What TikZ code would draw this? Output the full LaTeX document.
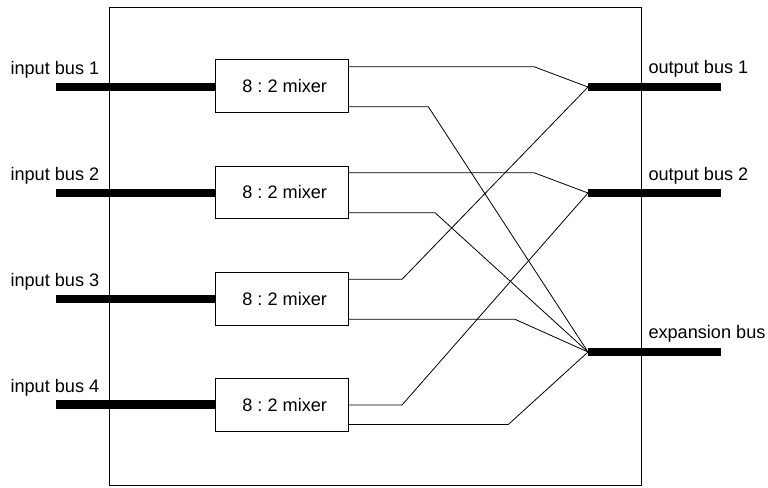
\documentclass[tikz,border=0pt]{standalone}
\usepackage{fontspec}
\setmainfont{Liberation Sans}
\frenchspacing
\begin{document}
\begin{tikzpicture}[x=0.75pt,y=-0.75pt,line width=0.75pt,
  mixer/.style={draw,rectangle,minimum width=100pt,minimum height=39.5pt,inner sep=0pt,font=\fontsize{13.6}{16}\selectfont},
  lbl/.style={anchor=base west,inner sep=0pt,font=\fontsize{13.6}{16}\selectfont},
  bus/.style={line width=6.4pt},
  wire/.style={line width=0.6pt}]
\useasboundingbox (0,0) rectangle (768,487);
% frame
\draw (109,7) rectangle (641,485);
% mixers
\node[mixer] (m1) at (281.7,86.2) {\hspace*{4.5pt}8 : 2 mixer};
\node[mixer] (m2) at (281.7,192.5) {\hspace*{4.5pt}8 : 2 mixer};
\node[mixer] (m3) at (281.7,298.7) {\hspace*{4.5pt}8 : 2 mixer};
\node[mixer] (m4) at (281.7,405) {\hspace*{4.5pt}8 : 2 mixer};
% input buses
\coordinate (i1) at (56,86.8);
\coordinate (i2) at (56,192.8);
\coordinate (i3) at (56,299);
\coordinate (i4) at (56,404.5);
\draw[bus] (i1) -- (i1 -| m1.west);
\draw[bus] (i2) -- (i2 -| m2.west);
\draw[bus] (i3) -- (i3 -| m3.west);
\draw[bus] (i4) -- (i4 -| m4.west);
% output buses
\coordinate (o1) at (588,87);
\coordinate (o1e) at (721,87);
\coordinate (o2) at (588,193);
\coordinate (o2e) at (721,193);
\coordinate (ex) at (588,352);
\coordinate (exe) at (721,352);
\draw[bus] (o1) -- (o1e);
\draw[bus] (o2) -- (o2e);
\draw[bus] (ex) -- (exe);
% labels
\node[lbl] (li1) at (10,74.3) {input bus 1};
\node[lbl] (li2) at (10,180.5) {input bus 2};
\node[lbl] (li3) at (10,286.7) {input bus 3};
\node[lbl] (li4) at (10,392.2) {input bus 4};
\node[lbl] (lo1) at (648,73.7) {output bus 1};
\node[lbl] (lo2) at (648,180) {output bus 2};
\node[lbl] (lex) at (648,338.5) {expansion bus};
% kinks
\coordinate (k1a) at (534,66.7);
\coordinate (k1b) at (428.3,106.7);
\coordinate (k2a) at (534,172.7);
\coordinate (k2b) at (435,212.7);
\coordinate (k3a) at (402,279.3);
\coordinate (k3b) at (515,319.3);
\coordinate (k4a) at (402,405);
\coordinate (k4b) at (508.3,424.5);
% wires
\draw[wire] (m1.east |- k1a) -- (k1a) -- (o1);
\draw[wire] (m1.east |- k1b) -- (k1b) -- (ex);
\draw[wire] (m2.east |- k2a) -- (k2a) -- (o2);
\draw[wire] (m2.east |- k2b) -- (k2b) -- (ex);
\draw[wire] (m3.east |- k3a) -- (k3a) -- (o1);
\draw[wire] (m3.east |- k3b) -- (k3b) -- (ex);
\draw[wire] (m4.east |- k4a) -- (k4a) -- (o2);
\draw[wire] (m4.east |- k4b) -- (k4b) -- (ex);
\end{tikzpicture}
\end{document}
